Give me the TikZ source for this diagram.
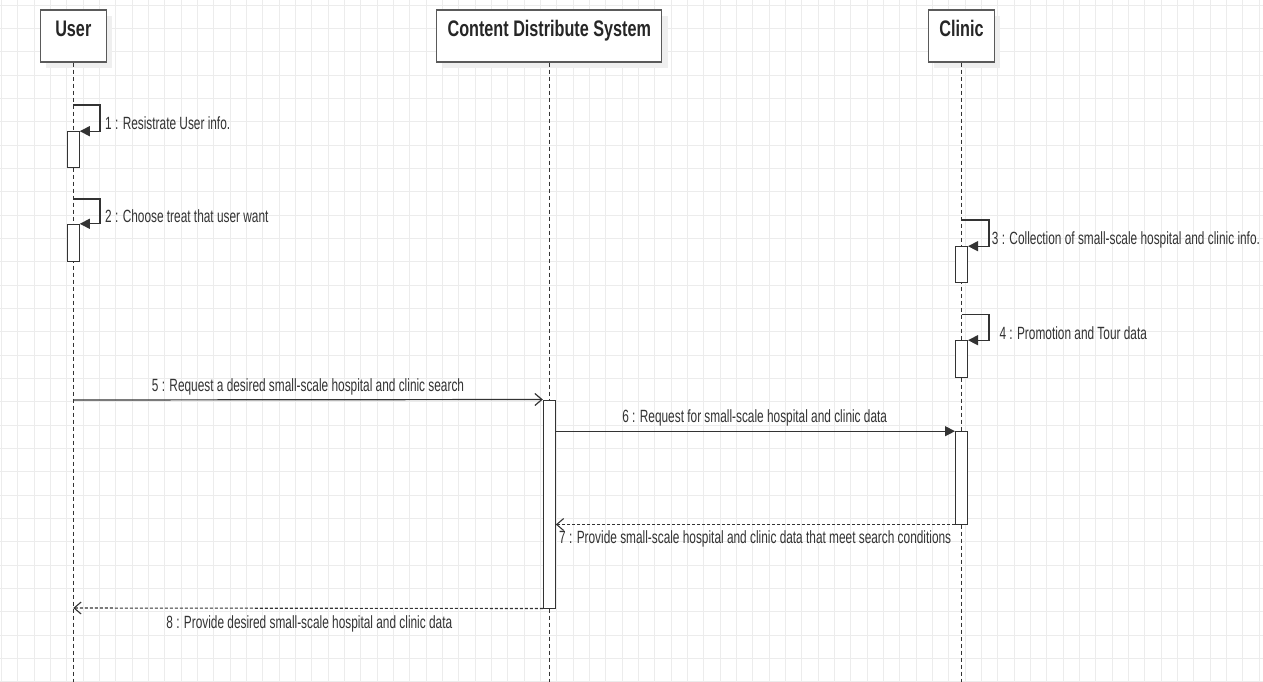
\documentclass[tikz,border=0pt]{standalone}
\usepackage{fontspec}
\setmainfont{Liberation Sans}
\newfontfamily\lblfont{Liberation Sans}[FakeStretch=0.67]
\newfontfamily\hdfont{Liberation Sans}[FakeStretch=0.72]
\usetikzlibrary{arrows.meta}
\definecolor{gridc}{HTML}{ECECEC}
\definecolor{linec}{HTML}{333333}
\definecolor{boxc}{HTML}{5A5A5A}
\definecolor{shadec}{HTML}{EFEFEF}
\tikzset{
  gridline/.style={draw=gridc, line width=0.8pt},
  headbox/.style={draw=boxc, fill=white, line width=1.2pt, rectangle, inner sep=0pt},
  headtext/.style={inner sep=0pt, anchor=base, font=\hdfont\fontsize{22.5pt}{26pt}\selectfont\bfseries, text=black!85},
  lifeline/.style={draw=linec, line width=1pt, dash pattern=on 4pt off 3pt},
  actbox/.style={draw=linec, fill=white, line width=1pt, rectangle, inner sep=0pt, minimum width=12pt},
  msglabel/.style={inner sep=0pt, font=\lblfont\fontsize{17.7pt}{21pt}\selectfont, text=black!80},
  selfmsg/.style={draw=linec, line width=1.2pt, -{Triangle[length=10pt,width=10pt]}},
  callmsg/.style={draw=linec, line width=1.2pt, -{Triangle[length=10pt,width=10pt]}},
  asyncmsg/.style={draw=linec, line width=1.2pt, -{Straight Barb[length=7pt,width=12pt]}},
  replymsg/.style={draw=linec, line width=1.1pt, dash pattern=on 3pt off 2pt, -{Straight Barb[length=7pt,width=12pt]}}
}
\begin{document}
\begin{tikzpicture}[x=1pt,y=-1pt]
\useasboundingbox (0,0) rectangle (1263,682);
\fill[white] (0,0) rectangle (1263,682);

% background grid
\foreach \k in {0,...,77} \draw[gridline] ({1.3+16.333*\k},0) -- ({1.3+16.333*\k},682);
\foreach \k in {0,...,29} \draw[gridline] (0,{5+23.333*\k}) -- (1263,{5+23.333*\k});

% header shadows
\fill[shadec] (46.3,16) rectangle (112.3,68);
\fill[shadec] (442.7,16) rectangle (667.7,68);
\fill[shadec] (934.3,16) rectangle (1000.3,68);

% lifeline headers
\node[headbox, minimum width=66pt, minimum height=52pt] (user) at (73.3,36) {};
\node[headtext] (usertxt) at (73.3,36.7) {User};
\node[headbox, minimum width=225pt, minimum height=52pt] (cds) at (549.3,36) {};
\node[headtext] (cdstxt) at (549.3,36.7) {Content Distribute System};
\node[headbox, minimum width=66pt, minimum height=52pt] (clinic) at (961.5,36) {};
\node[headtext] (clinictxt) at (961.5,36.7) {Clinic};

% lifelines
\coordinate (userend) at (73.3,682);
\coordinate (cdsend) at (549.3,682);
\coordinate (clinicend) at (961.5,682);
\draw[lifeline] (user.south) -- (userend);
\draw[lifeline] (cds.south) -- (cdsend);
\draw[lifeline] (clinic.south) -- (clinicend);

% activations
\node[actbox, minimum height=35.6pt] (a1) at (73.3,149.5) {};
\node[actbox, minimum height=37.4pt] (a2) at (73.3,243) {};
\node[actbox, minimum height=35.6pt] (a3) at (961.5,264.5) {};
\node[actbox, minimum height=37pt] (a4) at (961.5,359.2) {};
\node[actbox, minimum height=208pt] (acds) at (549.3,504) {};
\node[actbox, minimum height=92.3pt] (aclinic) at (961.5,477.85) {};

% self messages
\coordinate (s1) at (73.3,105);
\coordinate (s2) at (73.3,199);
\coordinate (s3) at (961.5,220);
\coordinate (s4) at (961.5,314.3);
\draw[selfmsg] (s1) -- ++(26.7,0) |- (a1.north east);
\draw[selfmsg] (s2) -- ++(26.7,0) |- (a2.north east);
\draw[selfmsg] (s3) -- ++(27.5,0) |- (a3.north east);
\draw[selfmsg] (s4) -- ++(27.5,0) |- (a4.north east);

\node[msglabel, anchor=base west] (l1) at (105,129.3) {1 : Resistrate User info.};
\node[msglabel, anchor=base west] (l2) at (105,222.3) {2 : Choose treat that user want};
\node[msglabel, anchor=base west] (l3) at (991.7,244.3) {3 : Collection of small-scale hospital and clinic info.};
\node[msglabel, anchor=base west] (l4) at (999.3,339.3) {4 : Promotion and Tour data};

% calls and replies
\coordinate (m5) at (73.3,400);
\draw[asyncmsg] (m5) -- (acds.north west);
\node[msglabel, anchor=base] (l5) at (308,391) {5 : Request a desired small-scale hospital and clinic search};

\draw[callmsg] (acds.east |- aclinic.north west) -- (aclinic.north west);
\node[msglabel, anchor=base] (l6) at (754.7,422.7) {6 : Request for small-scale hospital and clinic data};

\draw[replymsg] (aclinic.south west) -- (acds.east |- aclinic.south west);
\node[msglabel, anchor=base west] (l7) at (559,543.3) {7 : Provide small-scale hospital and clinic data that meet search conditions};

\coordinate (m8) at (73.3,608);
\draw[replymsg] (acds.south west) -- (m8);
\node[msglabel, anchor=base] (l8) at (309.3,628.3) {8 : Provide desired small-scale hospital and clinic data};
\end{tikzpicture}
\end{document}
